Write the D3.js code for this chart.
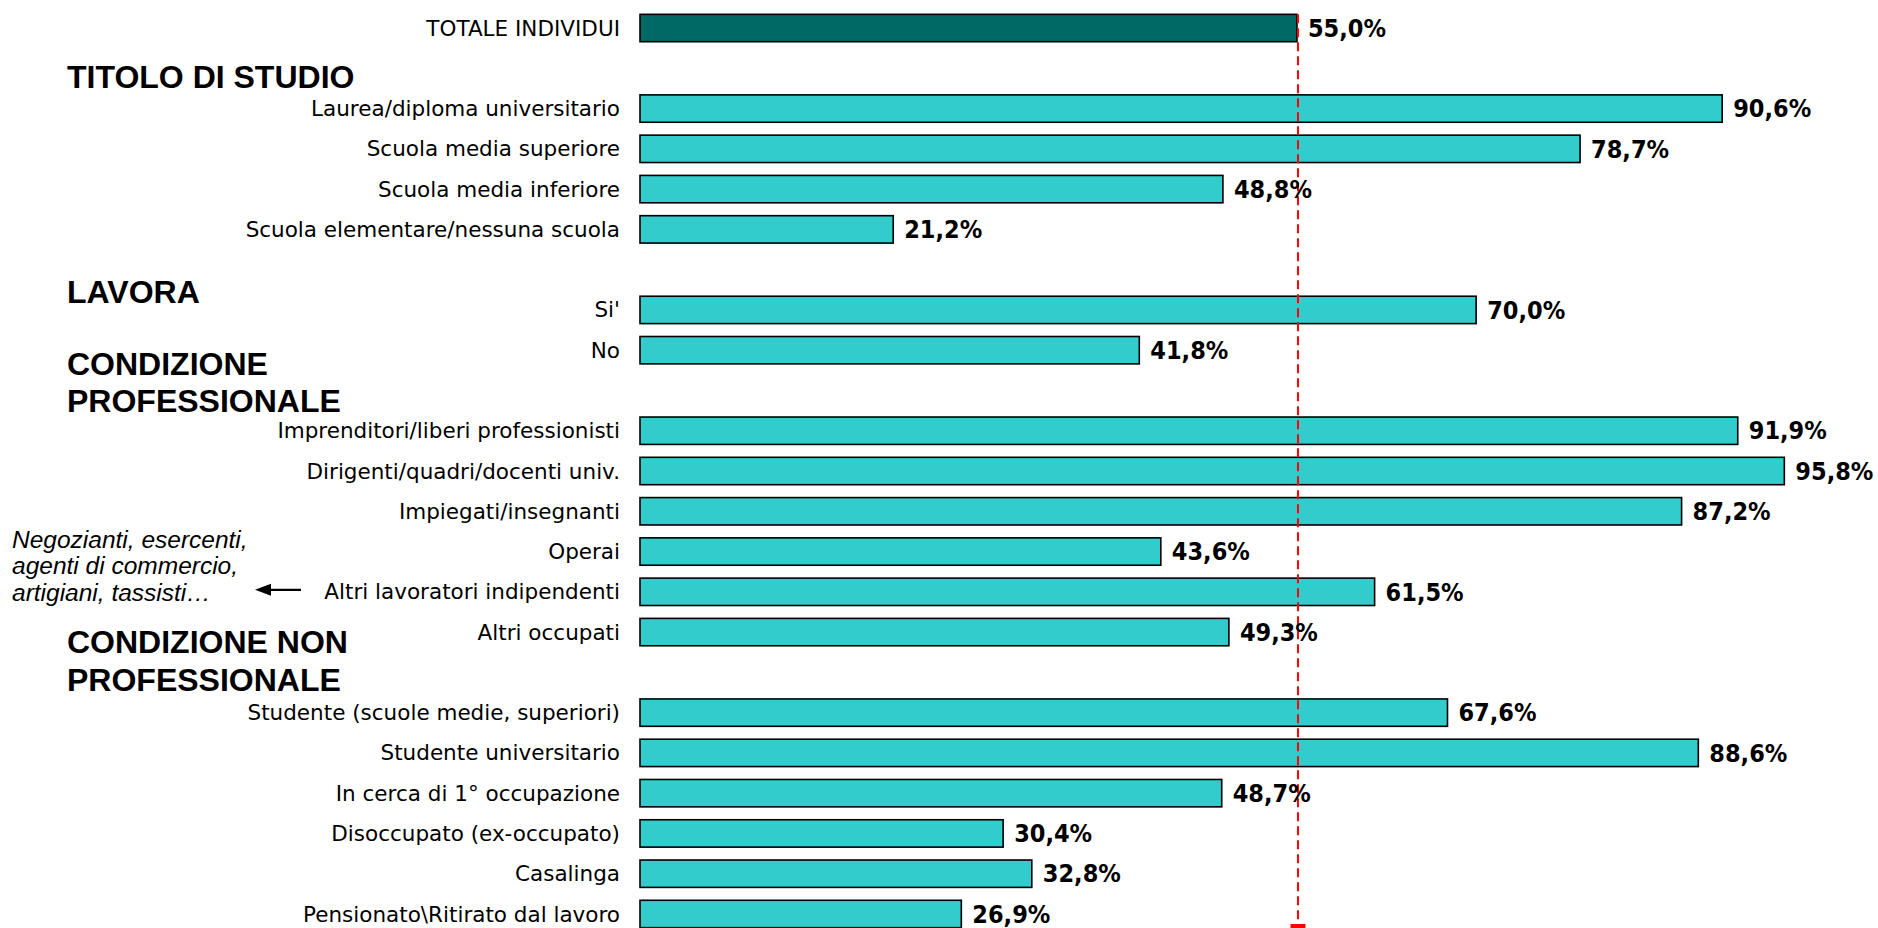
<!DOCTYPE html>
<html>
<head>
<meta charset="utf-8">
<script src="https://cdn.jsdelivr.net/npm/d3@7"></script>
<style>
  html, body { margin: 0; padding: 0; background: #ffffff; }
  svg { display: block; }
</style>
</head>
<body>
<svg id="chart" width="1878" height="928"></svg>
<script>
// ---- data ----
const totalLabels = ["TOTALE INDIVIDUI"];
const totalValues = [55.0];

const studioLabels = ["Laurea/diploma universitario", "Scuola media superiore", "Scuola media inferiore", "Scuola elementare/nessuna scuola"];
const studioValues = [90.6, 78.7, 48.8, 21.2];

const lavoraLabels = ["Si'", "No"];
const lavoraValues = [70.0, 41.8];

const profLabels = ["Imprenditori/liberi professionisti", "Dirigenti/quadri/docenti univ.", "Impiegati/insegnanti", "Operai", "Altri lavoratori indipendenti", "Altri occupati"];
const profValues = [91.9, 95.8, 87.2, 43.6, 61.5, 49.3];

const nonProfLabels = ["Studente (scuole medie, superiori)", "Studente universitario", "In cerca di 1° occupazione", "Disoccupato (ex-occupato)", "Casalinga", "Pensionato\\Ritirato dal lavoro"];
const nonProfValues = [67.6, 88.6, 48.7, 30.4, 32.8, 26.9];

const groupTitles = [["TITOLO DI STUDIO"], ["LAVORA"], ["CONDIZIONE", "PROFESSIONALE"], ["CONDIZIONE NON", "PROFESSIONALE"]];
const noteLines = ["Negozianti, esercenti,", "agenti di commercio,", "artigiani, tassisti…"];

// ---- rows (blank spacer rows separate the groups) ----
const groups = [
  { labels: studioLabels, values: studioValues },
  { labels: lavoraLabels, values: lavoraValues },
  { labels: profLabels, values: profValues },
  { labels: nonProfLabels, values: nonProfValues }
];
const rows = [{ key: "r0", label: totalLabels[0], value: totalValues[0], total: true }];
groups.forEach((g, gi) => {
  rows.push({ key: "gap" + gi, spacer: true });
  g.labels.forEach((l, i) => rows.push({ key: "g" + gi + "_" + i, label: l, value: g.values[i], group: gi }));
});

// ---- scales ----
const svg = d3.select("#chart");
const x = d3.scaleLinear().domain([0, 100]).range([640, 1834.5]);
const y = d3.scaleBand()
  .domain(rows.map(d => d.key))
  .range([7.9, 7.9 + rows.length * 40.27])
  .paddingInner(0.32)
  .paddingOuter(0.16);

const bars = rows.filter(d => !d.spacer);
const mid = d => y(d.key) + y.bandwidth() / 2;

// category labels
svg.append("g").selectAll("text").data(bars).join("text")
  .attr("x", 620)
  .attr("y", mid)
  .attr("dy", "0.35em")
  .attr("text-anchor", "end")
  .attr("font-family", "'DejaVu Sans', sans-serif")
  .attr("font-size", 21.5)
  .attr("fill", "#000")
  .text(d => d.label);

// bars
svg.append("g").selectAll("rect").data(bars).join("rect")
  .attr("x", x(0))
  .attr("y", d => y(d.key))
  .attr("width", d => x(d.value) - x(0))
  .attr("height", y.bandwidth())
  .attr("fill", d => d.total ? "#006966" : "#33CCCC")
  .attr("stroke", "#000")
  .attr("stroke-width", 1.6);

// reference line at the overall value
const refX = x(totalValues[0]) + 1;
const lineTop = y("r0");
const lineBottom = 925;
svg.append("line")
  .attr("x1", refX).attr("x2", refX)
  .attr("y1", lineTop).attr("y2", lineBottom)
  .attr("stroke", "#ff0000")
  .attr("stroke-width", 2)
  .attr("stroke-dasharray", "9,5");
svg.append("rect")
  .attr("x", refX - 7.5).attr("y", lineBottom - 1)
  .attr("width", 15).attr("height", 4)
  .attr("fill", "#ff0000");

// value labels
const fmt = v => d3.format(".1f")(v).replace(".", ",") + "%";
svg.append("g").selectAll("text").data(bars).join("text")
  .attr("x", d => x(d.value) + 11)
  .attr("y", mid)
  .attr("dy", "0.35em")
  .attr("font-family", "'DejaVu Sans Condensed', 'DejaVu Sans', sans-serif")
  .attr("font-weight", "bold")
  .attr("font-size", 25)
  .attr("fill", "#000")
  .text(d => fmt(d.value));

// group headings
const firstKey = gi => "g" + gi + "_0";
const headingBase = [
  y(firstKey(0)) - 7,
  y(firstKey(1)) + 7,
  y(firstKey(2)) - 5,
  y(firstKey(3)) - 8
];
const headings = svg.append("g")
  .attr("font-family", "'Liberation Sans', Arial, sans-serif")
  .attr("font-weight", "bold")
  .attr("font-size", 32)
  .attr("fill", "#000");
groupTitles.forEach((lines, gi) => {
  lines.forEach((line, li) => {
    headings.append("text")
      .attr("x", 67)
      .attr("y", headingBase[gi] - (lines.length - 1 - li) * 37.5)
      .text(line);
  });
});

// note beside "Altri lavoratori indipendenti"
const noteRow = "g2_4";
const noteY = mid({ key: noteRow });
svg.append("g")
  .attr("font-family", "'Liberation Sans', Arial, sans-serif")
  .attr("font-style", "italic")
  .attr("font-size", 24.5)
  .attr("fill", "#000")
  .selectAll("text").data(noteLines).join("text")
  .attr("x", 12)
  .attr("y", (d, i) => noteY + 9 - (noteLines.length - 1 - i) * 26.5)
  .text(d => d);

// arrow pointing at the note
svg.append("line")
  .attr("x1", 301).attr("x2", 268)
  .attr("y1", noteY - 2).attr("y2", noteY - 2)
  .attr("stroke", "#000").attr("stroke-width", 2.2);
svg.append("path")
  .attr("d", d3.line()([[255, noteY - 2], [271, noteY - 8], [271, noteY + 4]]) + "Z")
  .attr("fill", "#000");
</script>
</body>
</html>
